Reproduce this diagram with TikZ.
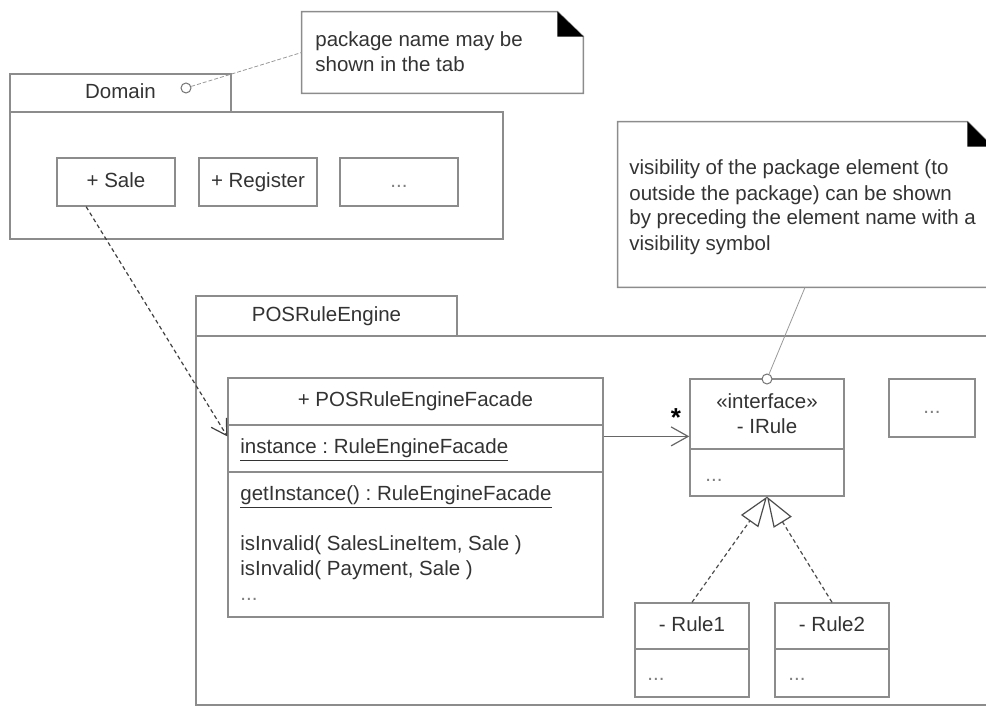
\documentclass[tikz,border=0pt]{standalone}
\usepackage{fontspec}
\setmainfont{Liberation Sans}
\usetikzlibrary{positioning,arrows.meta,fit,calc}
\colorlet{umlline}{black!45}
\colorlet{umltext}{black!80}
\frenchspacing

\begin{document}
\begin{tikzpicture}[x=0.5pt, y=-0.5pt, font=\fontsize{10.25}{12.5}\selectfont, text=umltext,
  every label/.style={text height=7.4pt, text depth=2pt},
  box/.style={draw=umlline, line width=0.7pt, inner sep=0pt},
  pin/.style={circle, draw=black!55, fill=white, line width=0.5pt, inner sep=0pt, minimum size=5pt},
  noteline/.style={draw=black!40, line width=0.4pt},
  dots/.style={text=black!50, inner sep=0pt},
  dep/.style={draw=black!75, line width=0.6pt, dash pattern=on 2pt off 1.5pt,
    -{Straight Barb[length=7.5pt, width=9pt]}},
  realize/.style={draw=black!70, line width=0.6pt, dash pattern=on 2pt off 1.5pt,
    -{Triangle[open, fill=white, length=15pt, width=10.5pt]}},
  assoc/.style={draw=black!60, line width=0.6pt, -{Straight Barb[length=8.5pt, width=9.5pt]}}]
\useasboundingbox (0,0) rectangle (986,706);

% notes
\node[inner sep=0pt, fit={(302,12) (583,93)}] (note1) {};
\draw[box] (note1.north west) -- ([xshift=-13pt]note1.north east) -- ([yshift=-12.5pt]note1.north east)
  -- (note1.south east) -- (note1.south west) -- cycle;
\fill ([xshift=-13pt]note1.north east) -- ([yshift=-12.5pt]note1.north east)
  -- ([xshift=-13pt, yshift=-12.5pt]note1.north east) -- cycle;
\node[anchor=base west, inner sep=0pt] (note1a) at (315,47) {package name may be};
\node[anchor=base west, inner sep=0pt] (note1b) at (315,72) {shown in the tab};

\node[inner sep=0pt, fit={(618,122) (992,287)}] (note2) {};
\draw[box] (note2.north west) -- ([xshift=-12.5pt]note2.north east) -- ([yshift=-12.5pt]note2.north east)
  -- (note2.south east) -- (note2.south west) -- cycle;
\fill ([xshift=-12.5pt]note2.north east) -- ([yshift=-12.5pt]note2.north east)
  -- ([xshift=-12.5pt, yshift=-12.5pt]note2.north east) -- cycle;
\foreach \t [count=\i] in {{visibility of the package element (to}, {outside the package) can be shown},
    {by preceding the element name with a}, {visibility symbol}}
  \node[anchor=base west, inner sep=0pt] (note2l\i) at (629,150+25*\i) {\t};

% package Domain
\node[box, fit={(10,74) (231,112)}, label=center:Domain] (domtab) {};
\node[box, fit={(10,112) (503,239)}] (dombody) {};
\node[box, fit={(57,158) (175,206)}, label=center:+ Sale] (sale) {};
\node[box, fit={(199,158) (317,206)}, label=center:+ Register] (register) {};
\node[box, fit={(340,158) (458,206)}, label={[text=black!50]center:...}] (domdots) {};
\node[pin] (dompin) at (186,88) {};

% package POSRuleEngine
\node[box, fit={(196,336) (1000,705)}] (posbody) {};
\node[box, fit={(196,296) (457,336)}, label=center:POSRuleEngine] (postab) {};

\node[box, fit={(228,378) (603,425)}, label=center:+ POSRuleEngineFacade] (factitle) {};
\node[box, fit={(228,425) (603,472)}] (facattr) {};
\node[box, fit={(228,472) (603,617)}] (facops) {};
\node[anchor=base west, inner sep=0pt] (facinst) at (240,453) {\underline{instance : RuleEngineFacade}};
\node[anchor=base west, inner sep=0pt] (facget) at (240,500) {\underline{getInstance() : RuleEngineFacade}};
\node[anchor=base west, inner sep=0pt] (facinv1) at (240,550) {isInvalid( SalesLineItem, Sale )};
\node[anchor=base west, inner sep=0pt] (facinv2) at (240,575) {isInvalid( Payment, Sale )};
\node[dots, anchor=base west] (facdots) at (240,600) {...};

\node[box, fit={(690,379) (844,449)},
  label={[align=center, text height=, text depth=]center:«interface»\\- IRule}] (irtitle) {};
\node[box, fit={(690,449) (844,496)}] (irbody) {};
\node[dots, anchor=base west] (irdots) at (705,481) {...};
\node[pin] (irpin) at (767,379) {};

\node[box, fit={(889,379) (975,437)}, label={[text=black!50]center:...}] (posdots) {};

\node[box, fit={(635,603) (749,649)}, label=center:- Rule1] (rule1) {};
\node[box, fit={(635,649) (749,697)}] (rule1body) {};
\node[dots, anchor=base west] (rule1dots) at (647,680) {...};
\node[box, fit={(775,603) (889,649)}, label=center:- Rule2] (rule2) {};
\node[box, fit={(775,649) (889,697)}] (rule2body) {};
\node[dots, anchor=base west] (rule2dots) at (788,680) {...};

% connectors
\draw[noteline, dash pattern=on 2pt off 1pt] (dompin) -- (note1.west);
\draw[noteline] (irpin) -- (note2.south);
\coordinate (depA) at ($(sale.south west)!0.25!(sale.south east)$);
\coordinate (depB) at ($(facattr.north west)!0.25!(facattr.south west)$);
\draw[dep] (depA) -- (depB);
\coordinate (assocA) at ($(facattr.north east)!0.25!(facattr.south east)$);
\draw[assoc] (assocA) -- (assocA -| irtitle.west);
\node[font=\fontsize{13}{13}\selectfont\bfseries, text=black, inner sep=0pt] (mult) at (676,418) {*};
\draw[realize] (rule1.north) -- (irbody.south);
\draw[realize] (rule2.north) -- (irbody.south);
\end{tikzpicture}
\end{document}
